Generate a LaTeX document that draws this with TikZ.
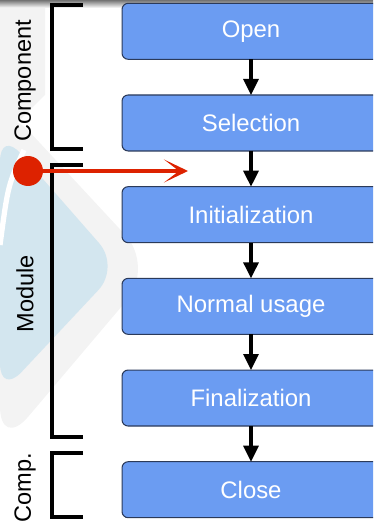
\documentclass[tikz,border=0pt]{standalone}
\usepackage{fontspec}
\setmainfont{Liberation Sans}
\usetikzlibrary{positioning,arrows.meta}
\definecolor{phaseblue}{HTML}{6B9CF2}
\definecolor{phaseedge}{HTML}{2B3A5A}
\definecolor{pinred}{HTML}{DD2200}
\definecolor{markblue}{HTML}{D3E6EF}
\definecolor{markgrey}{HTML}{F3F3F3}

\begin{document}
\begin{tikzpicture}[x=0.02cm,y=-0.02cm]
            \tikzset{
                phase/.style={draw=phaseedge,line width=0.6pt,fill=phaseblue,rounded corners=3.5pt,
                    minimum width=5.16cm,minimum height=1.12cm,inner sep=0pt,outer sep=0pt,text=white,
                    font=\fontsize{13.6}{16}\selectfont},
                flow/.style={-{Triangle[length=0.32cm,width=0.3cm]},line width=1.8pt},
                bracket/.style={line width=2.1pt},
                scopelabel/.style={rotate=90,font=\fontsize{13.4}{16}\selectfont},}
            \useasboundingbox (0,0) rectangle (373,523);
            \clip (0,0) rectangle (373,523);
            % faint logo in the background
            \fill [markgrey,rounded corners=25pt](0,100) -- (155,267) -- (0,450) -- cycle;
            \fill [markgrey](0,0) -- (45,0) -- (45,95) -- (0,140) -- cycle;
            \fill [markblue,rounded corners=18pt](0,130) -- (120,267) -- (0,395) -- cycle;
            \draw [white,line width=3pt](24,150) .. controls (8,185) .. (0,245);
            \shade [top color=black!55,bottom color=white](0,0) rectangle (373,8);
            % phases
            \node [phase] (open) at (251,31.3) {Open};
            \node [phase,below=0.714cm of open] (selection) {Selection};
            \node [phase,below=0.714cm of selection] (init) {Initialization};
            \node [phase,below=0.714cm of init] (usage) {Normal usage};
            \node [phase,below=0.714cm of usage] (final) {Finalization};
            \node [phase,below=0.714cm of final] (close) {Close};
            \foreach \a/\b in {open/selection,selection/init,init/usage,usage/final,final/close}
                \draw [flow](\a) -- (\b);
            % scopes
            \draw [bracket](83,5) -- (52,5) -- (52,149) -- (83,149);
            \draw [bracket](83,165) -- (52,165) -- (52,437) -- (83,437);
            \draw [bracket](83,453) -- (52,453) -- (52,517) -- (83,517);
            \node [scopelabel] (component) at (25,81) {Component};
            \node [scopelabel] (module) at (25,294) {Module};
            \node [scopelabel] (comp) at (25,488) {Comp.};
            % entry point
            \node [circle,fill=pinred,minimum size=0.6cm,inner sep=0pt] (pin) at (28,171) {};
            \coordinate (pintip) at (188,171);
            \draw [pinred,line width=2.6pt,-{Stealth[length=0.48cm,width=0.46cm,inset=0.3cm]}](pin.center) -- (pintip);
            % \draw [white](0,0) grid (373,523);
        \end{tikzpicture}
\end{document}
